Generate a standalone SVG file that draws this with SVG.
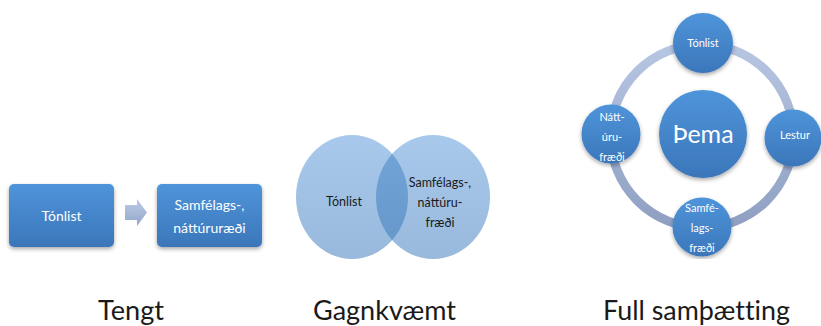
<svg xmlns="http://www.w3.org/2000/svg" width="821" height="326" viewBox="0 0 821 326">
<defs>
<linearGradient id="gBlue" x1="0" y1="0" x2="0" y2="1">
<stop offset="0" stop-color="#4f94da"/>
<stop offset="1" stop-color="#3b76ba"/>
</linearGradient>
<linearGradient id="gVenn" x1="0" y1="0" x2="0" y2="1">
<stop offset="0" stop-color="#a8c9eb"/>
<stop offset="1" stop-color="#98b9dc"/>
</linearGradient>
<linearGradient id="gLens" x1="0" y1="0" x2="0" y2="1">
<stop offset="0" stop-color="#74a5d8"/>
<stop offset="1" stop-color="#6596c9"/>
</linearGradient>
<linearGradient id="gArrow" x1="0" y1="0" x2="0" y2="1">
<stop offset="0" stop-color="#bccbe6"/>
<stop offset="1" stop-color="#93a6ca"/>
</linearGradient>
<linearGradient id="gRing" x1="0" y1="0" x2="0" y2="1">
<stop offset="0" stop-color="#b7c6e2"/>
<stop offset="1" stop-color="#8e9fc2"/>
</linearGradient>
<filter id="sh" x="-20%" y="-20%" width="140%" height="150%">
<feGaussianBlur in="SourceAlpha" stdDeviation="2"/>
<feOffset dx="0" dy="2" result="b"/>
<feComponentTransfer><feFuncA type="linear" slope="0.35"/></feComponentTransfer>
<feMerge><feMergeNode/><feMergeNode in="SourceGraphic"/></feMerge>
</filter>
<clipPath id="clipL"><ellipse cx="352" cy="197" rx="56" ry="62"/></clipPath>
<clipPath id="clipBot"><rect x="560" y="0" width="261" height="259"/></clipPath>
</defs>
<style>
.box{fill:url(#gBlue);filter:url(#sh)}
.node{fill:url(#gBlue);filter:url(#sh)}
.wt{fill:#ffffff;font-family:Lato,"Liberation Sans",sans-serif;text-anchor:middle}
.dk{fill:#1a1a1a;font-family:Lato,"Liberation Sans",sans-serif;text-anchor:middle}
.cap{fill:#1a1a1a;font-family:Lato,"Liberation Sans",sans-serif;font-size:26px;text-anchor:middle;font-variant-ligatures:none}
</style>

<!-- Tengt -->
<g id="box-tonlist">
<rect class="box" x="9" y="184" width="105" height="63" rx="5"/>
<text class="wt" x="61.5" y="221" font-size="14">Tónlist</text>
</g>
<g id="connectors">
<path d="M125 205 H137 V199 L147 212.5 L137 226 V220 H125 Z" fill="url(#gArrow)"/>
</g>
<g id="box-samfelags">
<rect class="box" x="157" y="184" width="105" height="63" rx="5"/>
<text class="wt" x="209.5" y="210" font-size="14">Samfélags-,</text>
<text class="wt" x="209.5" y="233" font-size="14">náttúruræði</text>
</g>

<!-- Gagnkvæmt -->
<g id="venn">
<ellipse cx="352" cy="197" rx="56" ry="62" fill="url(#gVenn)"/>
<ellipse cx="433" cy="197" rx="57" ry="62" fill="url(#gVenn)"/>
<ellipse cx="433" cy="197" rx="57" ry="62" fill="url(#gLens)" clip-path="url(#clipL)"/>
<text class="dk" x="344" y="206" font-size="12.5">Tónlist</text>
<text class="dk" x="440" y="187" font-size="12.5">Samfélags-,</text>
<text class="dk" x="440" y="207" font-size="12.5">náttúru-</text>
<text class="dk" x="440" y="227" font-size="12.5">fræði</text>
</g>

<!-- Full samþætting -->
<g id="ring-diagram" clip-path="url(#clipBot)">
<g id="ring">
<circle cx="702" cy="136" r="91.5" fill="none" stroke="url(#gRing)" stroke-width="9"/>
</g>
<g id="node-thema">
<circle class="node" cx="703" cy="134" r="44"/>
<text class="wt" x="703" y="143" font-size="25">Þema</text>
</g>
<g id="node-tonlist">
<circle class="node" cx="703" cy="43" r="30"/>
<text class="wt" x="703" y="47" font-size="11">Tónlist</text>
</g>
<g id="node-natturu">
<circle class="node" cx="611" cy="134" r="29.5"/>
<text class="wt" x="612" y="121" font-size="11">Nátt-</text>
<text class="wt" x="612" y="141" font-size="11">úru-</text>
<text class="wt" x="612" y="161" font-size="11">fræði</text>
</g>
<g id="node-lestur">
<circle class="node" cx="793" cy="138" r="28.5"/>
<text class="wt" x="795" y="139" font-size="11">Lestur</text>
</g>
<g id="node-samfe">
<circle class="node" cx="702" cy="227" r="29.5"/>
<text class="wt" x="702" y="212" font-size="11">Samfé-</text>
<text class="wt" x="702" y="232" font-size="11">lags-</text>
<text class="wt" x="702" y="252" font-size="11">fræði</text>
</g>
</g>

<!-- Captions -->
<text class="cap" x="131" y="320" textLength="66" lengthAdjust="spacingAndGlyphs">Tengt</text>
<text class="cap" x="384.5" y="320" textLength="143" lengthAdjust="spacingAndGlyphs">Gagnkvæmt</text>
<text class="cap" x="696.5" y="320" textLength="187" lengthAdjust="spacingAndGlyphs">Full samþætting</text>
</svg>
